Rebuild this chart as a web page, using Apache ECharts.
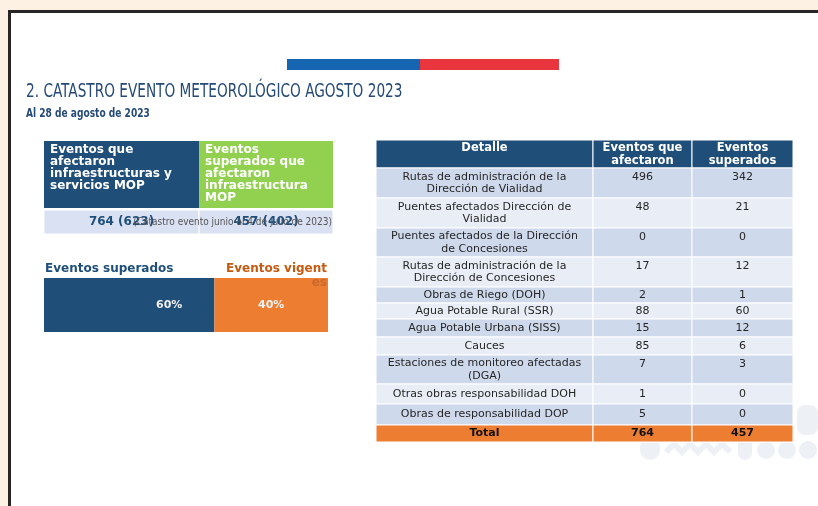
<!DOCTYPE html>
<html><head><meta charset="utf-8">
<script src="https://cdn.jsdelivr.net/npm/echarts@6/dist/echarts.min.js"></script>
<style>html,body{margin:0;padding:0;background:#fdf1e4}#c{width:818px;height:506px}</style>
</head><body><div id="c"></div>
<script>
// ---------------- data ----------------
const detalle = [
  'Rutas de administración de la\nDirección de Vialidad',
  'Puentes afectados Dirección de\nVialidad',
  'Puentes afectados de la Dirección\nde Concesiones',
  'Rutas de administración de la\nDirección de Concesiones',
  'Obras de Riego (DOH)',
  'Agua Potable Rural (SSR)',
  'Agua Potable Urbana (SISS)',
  'Cauces',
  'Estaciones de monitoreo afectadas\n(DGA)',
  'Otras obras responsabilidad DOH',
  'Obras de responsabilidad DOP'
];
const afectaron = [496, 48, 0, 17, 2, 88, 15, 85, 7, 1, 5];
const superados = [342, 21, 0, 12, 1, 60, 12, 6, 3, 0, 0];
const totalLabel = 'Total';
const totalAfectaron = 764;
const totalSuperados = 457;
const tableHeaders = ['Detalle', 'Eventos que\nafectaron', 'Eventos\nsuperados'];

const summaryHeaders = ['Eventos que\nafectaron\ninfraestructuras y\nservicios MOP', 'Eventos\nsuperados que\nafectaron\ninfraestructura\nMOP'];
const summaryValues = ['764 (623)', '457 (402)'];
const summaryNote = '(Catastro evento junio al 4 de julio de 2023)';

const estadoCategory = ['Estado'];
const estadoLabels = ['Eventos superados', 'Eventos vigentes'];
const estadoPct = [60, 40];

const titleText = '2. CATASTRO EVENTO METEOROLÓGICO AGOSTO 2023';
const subtitleText = 'Al 28 de agosto de 2023';

// ---------------- layout ----------------
const colW = [217, 99, 101];
const rowH = [28, 30, 30, 29, 30, 16, 16, 18, 18, 29, 20, 21, 17];
const sumColW = [155, 134];
const sumRowH = [69, 24];

const edges = a => a.reduce((acc, v) => (acc.push(acc[acc.length - 1] + v), acc), [0]);
const colE = edges(colW), rowE = edges(rowH);
const sColE = edges(sumColW), sRowE = edges(sumRowH);

const BLUE = '#1f4e79', ORANGE = '#ed7d31', GREEN = '#92d050';
const ROW_DARK = '#cfd9ec', ROW_LIGHT = '#e9eef6';
const FONT = '"DejaVu Sans", Verdana, sans-serif';
const WM = '#edf1f6';

// detail table cells
const cells = [];
tableHeaders.forEach((t, c) => cells.push({ value: [c, 0], text: t, kind: 'head' }));
detalle.forEach((t, i) => {
  const r = i + 1;
  const two = t.indexOf('\n') >= 0;
  cells.push({ value: [0, r], text: t, kind: 'body', two });
  cells.push({ value: [1, r], text: String(afectaron[i]), kind: 'num', two });
  cells.push({ value: [2, r], text: String(superados[i]), kind: 'num', two });
});
const lastR = detalle.length + 1;
[totalLabel, String(totalAfectaron), String(totalSuperados)].forEach((t, c) =>
  cells.push({ value: [c, lastR], text: t, kind: 'total' }));

function renderDetail(params, api) {
  const d = cells[params.dataIndex];
  const c = api.value(0), r = api.value(1);
  const p0 = api.coord([colE[c], rowE[r]]);
  const p1 = api.coord([colE[c + 1], rowE[r + 1]]);
  const x = p0[0], y = p0[1], w = p1[0] - p0[0], h = p1[1] - p0[1];
  let fill, color = '#262626', font = '11px ' + FONT, ty = y + h / 2, va = 'middle';
  if (d.kind === 'head') { fill = BLUE; color = '#fff'; font = 'bold 11.5px ' + FONT; ty = y + 2; va = 'top'; }
  else if (d.kind === 'total') { fill = ORANGE; color = '#111'; font = 'bold 11px ' + FONT; }
  else {
    fill = (r % 2 === 1) ? ROW_DARK : ROW_LIGHT;
    if (d.kind === 'num' && d.two) { ty = y + 3; va = 'top'; }
  }
  return {
    type: 'group',
    children: [
      { type: 'rect', shape: { x, y, width: w, height: h }, style: { fill, stroke: '#fff', lineWidth: 1 } },
      { type: 'text', style: { x: x + w / 2, y: ty, text: d.text, align: 'center', verticalAlign: va, font, fill: color, lineHeight: 12.5 } }
    ]
  };
}

// summary table cells
const sCells = [];
summaryHeaders.forEach((t, c) => sCells.push({ value: [c, 0], text: t, kind: 'head' }));
summaryValues.forEach((t, c) => sCells.push({ value: [c, 1], text: t, kind: 'val' }));

function renderSummary(params, api) {
  const d = sCells[params.dataIndex];
  const c = api.value(0), r = api.value(1);
  const p0 = api.coord([sColE[c], sRowE[r]]);
  const p1 = api.coord([sColE[c + 1], sRowE[r + 1]]);
  const x = p0[0], y = p0[1], w = p1[0] - p0[0], h = p1[1] - p0[1];
  const children = [];
  if (d.kind === 'head') {
    children.push({ type: 'rect', shape: { x, y, width: w, height: h - 2 }, style: { fill: c === 0 ? BLUE : GREEN } });
    children.push({ type: 'text', style: { x: x + 6, y: y + 3, text: d.text, align: 'left', verticalAlign: 'top', font: 'bold 12px ' + FONT, fill: '#fff', lineHeight: 12 } });
  } else {
    children.push({ type: 'rect', shape: { x, y, width: w, height: h }, style: { fill: '#d9e1f2', stroke: '#fff', lineWidth: 1 } });
    children.push({ type: 'text', style: { x: x + w / 2, y: y + h / 2, text: d.text, align: 'center', verticalAlign: 'middle', font: 'bold 12px ' + FONT, fill: BLUE } });
    if (c === summaryValues.length - 1) {
      children.push({ type: 'text', z2: 10, style: { x: x + w - 1, y: y + h / 2, text: summaryNote, align: 'right', verticalAlign: 'middle', font: '10px "Liberation Sans Narrow", "DejaVu Sans Condensed", sans-serif', fill: '#555' } });
    }
  }
  return { type: 'group', children };
}

const chart = echarts.init(document.getElementById('c'), null, { renderer: 'canvas' });
chart.setOption({
  backgroundColor: '#fdf1e4',
  animation: false,
  graphic: [
    { type: 'rect', z: -10, shape: { x: 8, y: 10, width: 820, height: 500 }, style: { fill: '#262626' } },
    { type: 'rect', z: -9, shape: { x: 11, y: 13, width: 820, height: 500 }, style: { fill: '#ffffff' } },
    // faint watermark decoration (bottom right)
    { type: 'rect', z: -8, shape: { x: 640, y: 436, width: 20, height: 24, r: 10 }, style: { fill: WM } },
    { type: 'polyline', z: -8, shape: { points: [[666, 452], [674, 444], [682, 452], [690, 444], [698, 452], [706, 444], [714, 452], [722, 444], [730, 452]] }, style: { stroke: WM, lineWidth: 6, fill: null } },
    { type: 'rect', z: -8, shape: { x: 738, y: 430, width: 14, height: 30, r: 7 }, style: { fill: WM } },
    { type: 'circle', z: -8, shape: { cx: 766, cy: 450, r: 9 }, style: { fill: WM } },
    { type: 'circle', z: -8, shape: { cx: 787, cy: 450, r: 9 }, style: { fill: WM } },
    { type: 'circle', z: -8, shape: { cx: 808, cy: 450, r: 9 }, style: { fill: WM } },
    { type: 'rect', z: -8, shape: { x: 797, y: 405, width: 21, height: 30, r: 8 }, style: { fill: WM } },
    { type: 'rect', shape: { x: 287, y: 59, width: 133, height: 11 }, style: { fill: '#1565b0' } },
    { type: 'rect', shape: { x: 420, y: 59, width: 139, height: 11 }, style: { fill: '#e9353e' } },
    { type: 'text', x: 26, y: 92, scaleX: 0.8, style: { text: titleText, font: '19px "DejaVu Sans Condensed", sans-serif', fill: '#264b77', verticalAlign: 'middle' } },
    { type: 'text', x: 26, y: 114, scaleX: 0.84, style: { text: subtitleText, font: 'bold 12px "DejaVu Sans Condensed", sans-serif', fill: '#264b77', verticalAlign: 'middle' } },
    { type: 'text', x: 45, y: 269, style: { text: estadoLabels[0], font: 'bold 12px ' + FONT, fill: BLUE, verticalAlign: 'middle' } },
    { type: 'text', x: 327, y: 269, style: { text: estadoLabels[1].slice(0, 14), font: 'bold 12px ' + FONT, fill: '#c55a11', align: 'right', verticalAlign: 'middle' } },
    { type: 'text', z: 100, x: 327, y: 283, style: { text: estadoLabels[1].slice(14), font: 'bold 12px ' + FONT, fill: '#c9692c', align: 'right', verticalAlign: 'middle' } }
  ],
  grid: [
    { left: 376, top: 140, width: 417, height: 302 },
    { left: 44, top: 141, width: 289, height: 93 },
    { left: 44, top: 278, width: 284, height: 54 }
  ],
  xAxis: [
    { gridIndex: 0, type: 'value', min: 0, max: colE[colE.length - 1], show: false },
    { gridIndex: 1, type: 'value', min: 0, max: sColE[sColE.length - 1], show: false },
    { gridIndex: 2, type: 'value', min: 0, max: 100, show: false }
  ],
  yAxis: [
    { gridIndex: 0, type: 'value', inverse: true, min: 0, max: rowE[rowE.length - 1], show: false },
    { gridIndex: 1, type: 'value', inverse: true, min: 0, max: sRowE[sRowE.length - 1], show: false },
    { gridIndex: 2, type: 'category', data: estadoCategory, show: false }
  ],
  series: [
    { type: 'custom', xAxisIndex: 0, yAxisIndex: 0, data: cells, renderItem: renderDetail, silent: true },
    { type: 'custom', xAxisIndex: 1, yAxisIndex: 1, data: sCells, renderItem: renderSummary, silent: true },
    { type: 'bar', name: estadoLabels[0], xAxisIndex: 2, yAxisIndex: 2, stack: 'e', barWidth: '100%', data: [estadoPct[0]],
      itemStyle: { color: BLUE },
      label: { show: true, position: 'inside', offset: [40, 0], formatter: '{c}%', color: '#f2f2f2', fontWeight: 'bold', fontSize: 11, fontFamily: 'DejaVu Sans' } },
    { type: 'bar', name: estadoLabels[1], xAxisIndex: 2, yAxisIndex: 2, stack: 'e', barWidth: '100%', data: [estadoPct[1]],
      itemStyle: { color: ORANGE },
      label: { show: true, position: 'inside', formatter: '{c}%', color: '#f2f2f2', fontWeight: 'bold', fontSize: 11, fontFamily: 'DejaVu Sans' } }
  ]
});
</script>
</body></html>
